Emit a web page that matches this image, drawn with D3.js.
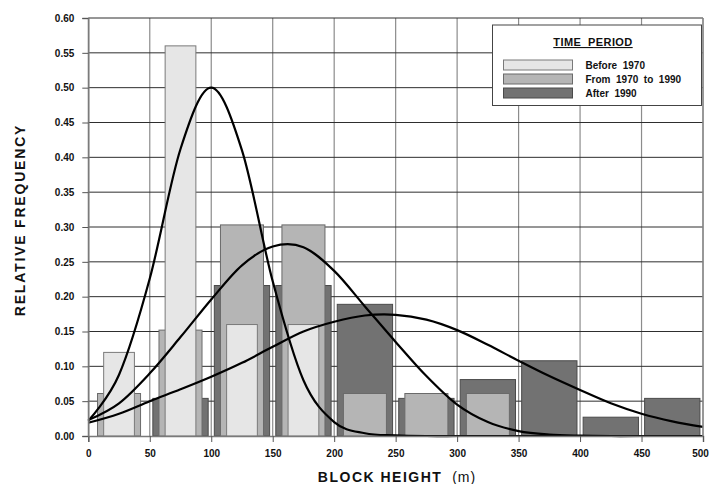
<!DOCTYPE html>
<html>
<head>
<meta charset="utf-8">
<script src="https://cdn.jsdelivr.net/npm/d3@7"></script>
<style>
  body { margin: 0; background: #fff; }
  text { font-family: "Liberation Sans", Arial, sans-serif; }
</style>
</head>
<body>
<svg width="710" height="484"></svg>
<script>
// histogram bins (start of each 50 m class)
const binStarts = [0, 50, 100, 150, 200, 250, 300, 350, 400, 450];
const before1970 = [0.12, 0.56, 0.16, 0.16, 0, 0, 0, 0, 0, 0];
const from1970to1990 = [0.061, 0.152, 0.303, 0.303, 0.061, 0.061, 0.061, 0, 0, 0];
const after1990 = [0, 0.054, 0.216, 0.216, 0.189, 0.054, 0.081, 0.108, 0.027, 0.054];

// fitted curves, read every 25 m
const curveX = [0, 25, 50, 75, 100, 125, 150, 175, 200, 225, 250, 275, 300, 325, 350, 375, 400, 425, 450, 475, 500];
const curveBefore = [0.022, 0.088, 0.226, 0.412, 0.500, 0.410, 0.222, 0.080, 0.020, 0.004, 0.001, 0, 0, 0, 0, 0, 0, 0, 0, 0, 0];
const curveMiddle = [0.023, 0.047, 0.090, 0.142, 0.196, 0.245, 0.272, 0.271, 0.237, 0.186, 0.135, 0.086, 0.045, 0.020, 0.007, 0.002, 0.0005, 0, 0, 0, 0];
const curveAfter = [0.019, 0.032, 0.050, 0.067, 0.085, 0.105, 0.128, 0.150, 0.164, 0.173, 0.174, 0.167, 0.152, 0.131, 0.108, 0.086, 0.066, 0.047, 0.032, 0.021, 0.013];

const xTicks = [0, 50, 100, 150, 200, 250, 300, 350, 400, 450, 500];
const yTicks = [0, 0.05, 0.10, 0.15, 0.20, 0.25, 0.30, 0.35, 0.40, 0.45, 0.50, 0.55, 0.60];
const legendLabels = ["Before  1970", "From  1970  to  1990", "After  1990"];

const svg = d3.select("svg");
const margin = { left: 88.3, right: 7, top: 18, bottom: 48 };
const width = +svg.attr("width");
const height = +svg.attr("height");

const x = d3.scaleLinear().domain([0, 500]).range([margin.left, width - margin.right]);
const y = d3.scaleLinear().domain([0, 0.6]).range([height - margin.bottom, margin.top]);

// grid
svg.append("g")
    .selectAll("line")
    .data(xTicks)
    .enter()
    .append("line")
    .attr("x1", d => x(d)).attr("x2", d => x(d))
    .attr("y1", y(0.6)).attr("y2", y(0))
    .attr("stroke", "#8c8c8c")
    .attr("stroke-width", 1.2);

svg.append("g")
    .selectAll("line")
    .data(yTicks.slice(1))
    .enter()
    .append("line")
    .attr("x1", x(0)).attr("x2", x(500))
    .attr("y1", d => y(d)).attr("y2", d => y(d))
    .attr("stroke", "#2e2e2e")
    .attr("stroke-width", 1);

// bars: widest at the back, narrowest in front
const series = [
    { values: after1990, width: 45, fill: "#727272", stroke: "#4a4a4a" },
    { values: from1970to1990, width: 35, fill: "#b5b5b5", stroke: "#6a6a6a" },
    { values: before1970, width: 25, fill: "#e6e6e6", stroke: "#7a7a7a" }
];

series.forEach(function (s) {
    svg.append("g")
        .selectAll("rect")
        .data(binStarts.map((b, i) => ({ mid: b + 25, v: s.values[i] })).filter(d => d.v > 0))
        .enter()
        .append("rect")
        .attr("x", d => x(d.mid - s.width / 2))
        .attr("width", d => x(d.mid + s.width / 2) - x(d.mid - s.width / 2))
        .attr("y", d => y(d.v))
        .attr("height", d => y(0) - y(d.v))
        .attr("fill", s.fill)
        .attr("stroke", s.stroke)
        .attr("stroke-width", 1);
});

// curves
const line = d3.line()
    .x((d, i) => x(curveX[i]))
    .y(d => y(d))
    .curve(d3.curveCardinal.tension(0));

[curveBefore, curveMiddle, curveAfter].forEach(function (c) {
    svg.append("path")
        .attr("d", line(c))
        .attr("fill", "none")
        .attr("stroke", "#000")
        .attr("stroke-width", 2.2);
});

// axes
const xAxis = svg.append("g")
    .attr("transform", "translate(0," + y(0) + ")")
    .call(d3.axisBottom(x).tickValues(xTicks).tickSize(6).tickPadding(8).tickFormat(d3.format("d")));
const yAxis = svg.append("g")
    .attr("transform", "translate(" + x(0) + ",0)")
    .call(d3.axisLeft(y).tickValues(yTicks).tickSize(6).tickPadding(8).tickFormat(d3.format(".2f")));

[xAxis, yAxis].forEach(function (a) {
    a.select(".domain").attr("stroke", "#7a7a7a").attr("stroke-width", 1.5);
    a.selectAll(".tick line").attr("stroke", "#555");
    a.selectAll(".tick text")
        .attr("fill", "#111")
        .style("font-size", "10px")
        .style("font-weight", "bold")
        .style("font-family", "'Liberation Sans', Arial, sans-serif");
});
// keep the last x label inside the picture
xAxis.selectAll(".tick text").filter(d => d === 500).attr("dx", "-3px");

// right border
svg.append("line")
    .attr("x1", x(500)).attr("x2", x(500))
    .attr("y1", y(0.6)).attr("y2", y(0))
    .attr("stroke", "#8c8c8c").attr("stroke-width", 1.5);

// axis titles
const xTitle = svg.append("text")
    .attr("x", 397)
    .attr("y", 481.5)
    .attr("text-anchor", "middle")
    .attr("fill", "#111")
    .style("font-size", "14px");
xTitle.append("tspan").text("BLOCK HEIGHT").style("font-weight", "bold").style("letter-spacing", "1.5px");
xTitle.append("tspan").text("\u00a0\u00a0(m)").style("letter-spacing", "1px");

svg.append("text")
    .attr("transform", "translate(25,220) rotate(-90)")
    .attr("text-anchor", "middle")
    .attr("fill", "#111")
    .style("font-size", "14px")
    .style("font-weight", "bold")
    .style("letter-spacing", "1.8px")
    .text("RELATIVE FREQUENCY");

// legend
const legend = svg.append("g");
legend.append("rect")
    .attr("x", 492.5).attr("y", 25)
    .attr("width", 209).attr("height", 80.5)
    .attr("fill", "#fff")
    .attr("stroke", "#444")
    .attr("stroke-width", 1);

legend.append("text")
    .attr("x", 593).attr("y", 46)
    .attr("text-anchor", "middle")
    .attr("fill", "#111")
    .style("font-size", "11px")
    .style("font-weight", "bold")
    .style("text-decoration", "underline")
    .style("letter-spacing", "0.4px")
    .text("TIME\u00a0\u00a0PERIOD");

const legendFills = [series[2], series[1], series[0]];
legendLabels.forEach(function (label, i) {
    legend.append("rect")
        .attr("x", 503.5).attr("y", 60 + i * 14)
        .attr("width", 69).attr("height", 10)
        .attr("fill", legendFills[i].fill)
        .attr("stroke", legendFills[i].stroke);
    legend.append("text")
        .attr("x", 585.5).attr("y", 69 + i * 14)
        .attr("fill", "#111")
        .style("font-size", "10px")
        .style("font-weight", "bold")
        .style("white-space", "pre")
        .text(label);
});
</script>
</body>
</html>
